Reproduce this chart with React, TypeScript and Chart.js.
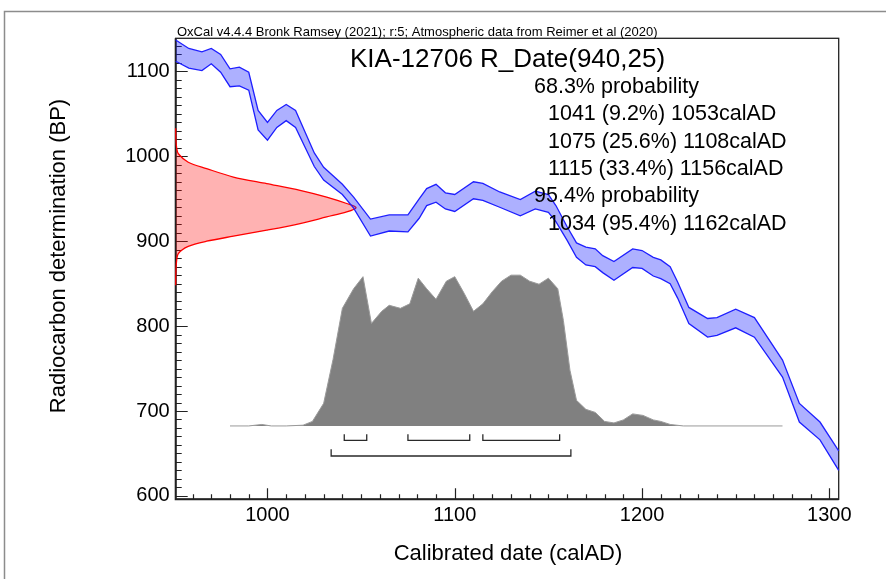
import React, { useEffect, useRef } from 'react';
import { Chart, registerables } from 'chart.js';

Chart.register(...registerables);

// axis extents (calAD / BP)
const X_MIN = 951;
const X_MAX = 1305;
const Y_MIN = 596;
const Y_MAX = 1139;
const X_LABELS = [1000, 1100, 1200, 1300];
const Y_LABELS = [600, 700, 800, 900, 1000, 1100];

// calibration curve band (IntCal20, upper / lower edge)
const curveYears = [951, 958, 965, 970, 975, 980, 985, 990, 995, 1000, 1005, 1010, 1015, 1020, 1025, 1030, 1040, 1046, 1055, 1065, 1075, 1081, 1085, 1090, 1095, 1100, 1110, 1115, 1124, 1135, 1143, 1150, 1154, 1160, 1165, 1170, 1175, 1179, 1185, 1195, 1200, 1206, 1210, 1215, 1219, 1225, 1235, 1240, 1250, 1260, 1275, 1284, 1295, 1305];
const curveUpper = [1137, 1127, 1123, 1127, 1120, 1103, 1105, 1099, 1054, 1040, 1054, 1061, 1054, 1029, 1004, 987, 967, 952, 926, 931, 931, 950, 962, 967, 957, 955, 970, 968, 958, 949, 959, 955, 942, 917, 898, 893, 891, 883, 876, 891, 889, 881, 878, 870, 852, 822, 809, 810, 820, 810, 760, 709, 687, 653];
const curveLower = [1112, 1104, 1101, 1109, 1099, 1082, 1083, 1078, 1031, 1019, 1034, 1042, 1034, 1011, 988, 972, 955, 939, 906, 912, 911, 927, 942, 946, 938, 935, 950, 948, 940, 930, 938, 934, 923, 901, 881, 872, 870, 863, 854, 869, 868, 859, 856, 850, 833, 803, 787, 789, 798, 787, 740, 687, 666, 630];

// radiocarbon measurement 940 +/- 25 BP, drawn along the BP axis (width in years)
const dateBP = [1033, 1020, 1010, 1003, 993, 985.5, 975.6, 967.8, 960, 952, 944.4, 939.5, 934.5, 928.6, 920.8, 913, 905.9, 900, 894, 885.5, 875, 860, 848];
const dateWidth = [0, 0.1, 0.5, 1.4, 6.7, 16.5, 30.8, 48.6, 66.4, 80.6, 91.3, 96.3, 91.3, 80.6, 66.4, 48.6, 30.8, 16.5, 6.7, 1.4, 0.4, 0.05, 0];

// calibrated probability (relative)
const histYears = [980, 990, 997, 1002, 1010, 1019, 1024, 1030, 1035, 1040, 1046, 1051, 1055.5, 1061, 1065, 1071, 1076, 1080.5, 1085, 1090, 1095.5, 1100, 1105, 1110, 1115, 1120, 1125, 1130, 1135, 1140, 1145, 1150, 1155, 1158, 1161.5, 1165, 1170, 1175, 1180, 1185, 1190, 1195, 1200.5, 1206, 1210, 1215, 1222, 1275];
const histProb = [0, 0, 0.01, 0, 0, 0.005, 0.03, 0.15, 0.44, 0.78, 0.91, 0.99, 0.68, 0.76, 0.8, 0.78, 0.81, 0.98, 0.91, 0.84, 0.96, 0.99, 0.88, 0.76, 0.81, 0.89, 0.96, 1.0, 1.0, 0.96, 0.94, 0.98, 0.91, 0.7, 0.37, 0.17, 0.11, 0.09, 0.03, 0.02, 0.04, 0.08, 0.07, 0.04, 0.03, 0.01, 0, 0];

// ranges
const range68From = [1041, 1075, 1115];
const range68To = [1053, 1108, 1156];
const range68Pct = ['9.2', '25.6', '33.4'];
const range95From = [1034];
const range95To = [1162];
const range95Pct = ['95.4'];

const HEADER = 'OxCal v4.4.4 Bronk Ramsey (2021); r:5; Atmospheric data from Reimer et al (2020)';
const TITLE = 'KIA-12706 R_Date(940,25)';
const X_TITLE = 'Calibrated date (calAD)';
const Y_TITLE = 'Radiocarbon determination (BP)';

const FONT = '"Liberation Sans", Arial, Helvetica, sans-serif';
const HIST_BASE = 682.4;
const HIST_HEIGHT = 177.6;

const bracket = (from: number, to: number, base: number, tip: number) => ({
    type: 'line' as const,
    data: [
        { x: from, y: tip },
        { x: from, y: base },
        { x: to, y: base },
        { x: to, y: tip },
    ],
    borderColor: '#2a2a2a',
    borderWidth: 1.3,
    pointRadius: 0,
    fill: false,
    tension: 0,
});

// minor ticks every 10 units, labels only on the listed values
const minorTicks = (s: any) => {
    const out: { value: number }[] = [];
    for (let v = Math.ceil(s.min / 10) * 10; v <= s.max; v += 10) out.push({ value: v });
    s.ticks = out;
};

const oxcalDecor = {
    id: 'oxcalDecor',
    beforeDraw(chart: Chart) {
        const ctx = chart.ctx;
        ctx.save();
        ctx.fillStyle = '#fff';
        ctx.fillRect(0, 0, chart.width, chart.height);
        ctx.strokeStyle = '#8c8c8c';
        ctx.lineWidth = 1.5;
        ctx.strokeRect(4.5, 11.5, chart.width + 20, chart.height + 20);
        ctx.restore();
    },
    beforeDatasetsDraw(chart: Chart) {
        const ctx = chart.ctx;
        const { left, right, top, bottom } = chart.chartArea;
        const xs = chart.scales.x;
        const ys = chart.scales.y;
        ctx.save();
        // inward tick marks
        ctx.strokeStyle = '#222';
        ctx.lineWidth = 1.2;
        ctx.beginPath();
        ys.ticks.forEach(t => {
            const py = Math.round(ys.getPixelForValue(t.value)) + 0.5;
            const len = Y_LABELS.includes(t.value) ? 12 : 6;
            ctx.moveTo(left, py);
            ctx.lineTo(left + len, py);
        });
        xs.ticks.forEach(t => {
            const px = Math.round(xs.getPixelForValue(t.value)) + 0.5;
            const len = X_LABELS.includes(t.value) ? 11 : 5;
            ctx.moveTo(px, bottom);
            ctx.lineTo(px, bottom - len);
        });
        ctx.stroke();
        // plot frame
        ctx.lineWidth = 1.3;
        ctx.strokeRect(left, top, right - left, bottom - top);
        ctx.lineWidth = 2;
        ctx.beginPath();
        ctx.moveTo(left, top);
        ctx.lineTo(left, bottom);
        ctx.lineTo(right, bottom);
        ctx.stroke();
        ctx.restore();
    },
    afterDraw(chart: Chart) {
        const ctx = chart.ctx;
        ctx.save();
        ctx.fillStyle = '#000';
        ctx.textAlign = 'left';
        ctx.textBaseline = 'alphabetic';
        ctx.font = `13px ${FONT}`;
        ctx.fillText(HEADER, 177, 36);
        ctx.font = `26px ${FONT}`;
        ctx.fillText(TITLE, 350, 67);
        ctx.font = `21.5px ${FONT}`;
        const lines: [string, number][] = [['68.3% probability', 534]];
        range68From.forEach((f, i) => lines.push([`${f} (${range68Pct[i]}%) ${range68To[i]}calAD`, 548]));
        lines.push(['95.4% probability', 534]);
        range95From.forEach((f, i) => lines.push([`${f} (${range95Pct[i]}%) ${range95To[i]}calAD`, 548]));
        lines.forEach(([txt, x], i) => ctx.fillText(txt, x, 93 + i * 27.3));

        ctx.font = `22px ${FONT}`;
        ctx.textAlign = 'center';
        ctx.textBaseline = 'middle';
        ctx.fillText(X_TITLE, 508, 554);
        ctx.translate(59, 256);
        ctx.rotate(-Math.PI / 2);
        ctx.fillText(Y_TITLE, 0, 0);
        ctx.restore();
    },
};

const App: React.FC = () => {
    const canvasRef = useRef<HTMLCanvasElement>(null);
    const chartRef = useRef<Chart | null>(null);

    useEffect(() => {
        document.body.style.margin = '0';
        if (!canvasRef.current) return;
        if (chartRef.current) chartRef.current.destroy();

        const datasets: any[] = [
            {
                type: 'line',
                data: curveYears.map((x, i) => ({ x, y: curveUpper[i] })),
                borderColor: '#1f1fff',
                borderWidth: 1.3,
                backgroundColor: 'rgba(20, 30, 255, 0.35)',
                fill: '+1',
                pointRadius: 0,
                tension: 0,
                clip: 2,
            },
            {
                type: 'line',
                data: curveYears.map((x, i) => ({ x, y: curveLower[i] })),
                borderColor: '#1f1fff',
                borderWidth: 1.3,
                fill: false,
                pointRadius: 0,
                tension: 0,
                clip: 2,
            },
            {
                type: 'line',
                indexAxis: 'y',
                data: dateBP.map((y, i) => ({ x: X_MIN + dateWidth[i], y })),
                borderColor: '#ff0000',
                borderWidth: 1.3,
                backgroundColor: 'rgba(255, 0, 0, 0.3)',
                fill: { value: X_MIN },
                pointRadius: 0,
                tension: 0.3,
                clip: 2,
            },
            {
                type: 'line',
                data: histYears.map((x, i) => ({ x, y: HIST_BASE + histProb[i] * HIST_HEIGHT })),
                borderColor: '#9a9a9a',
                borderWidth: 1,
                backgroundColor: '#808080',
                fill: { value: HIST_BASE },
                pointRadius: 0,
                tension: 0,
            },
            ...range68From.map((f, i) => bracket(f, range68To[i], 665.3, 672.6)),
            ...range95From.map((f, i) => bracket(f, range95To[i], 647, 655)),
        ];

        chartRef.current = new Chart(canvasRef.current, {
            type: 'line',
            data: { datasets },
            options: {
                responsive: false,
                animation: false,
                events: [],
                layout: { padding: { left: 115.7, top: 38.3, right: 47.3, bottom: 39.7 } },
                plugins: { legend: { display: false }, tooltip: { enabled: false } },
                scales: {
                    x: {
                        type: 'linear',
                        min: X_MIN,
                        max: X_MAX,
                        grid: { display: false, drawTicks: false },
                        border: { display: false },
                        afterBuildTicks: minorTicks,
                        ticks: {
                            autoSkip: false,
                            maxRotation: 0,
                            padding: 4,
                            color: '#000',
                            font: { family: FONT, size: 20 },
                            callback: (v: any) => (X_LABELS.includes(Number(v)) ? String(v) : ''),
                        },
                        afterFit: (s: any) => { s.height = 40; },
                    },
                    y: {
                        type: 'linear',
                        min: Y_MIN,
                        max: Y_MAX,
                        grid: { display: false, drawTicks: false },
                        border: { display: false },
                        afterBuildTicks: minorTicks,
                        ticks: {
                            autoSkip: false,
                            padding: 6,
                            color: '#000',
                            font: { family: FONT, size: 20 },
                            callback: (v: any) => (Y_LABELS.includes(Number(v)) ? String(v) : ''),
                        },
                        afterFit: (s: any) => { s.width = 60; },
                    },
                },
            },
            plugins: [oxcalDecor],
        });

        return () => {
            if (chartRef.current) chartRef.current.destroy();
            chartRef.current = null;
        };
    }, []);

    return (
        <div style={{ width: 886, height: 579 }}>
            <canvas ref={canvasRef} width={886} height={579}></canvas>
        </div>
    );
};

export default App;
